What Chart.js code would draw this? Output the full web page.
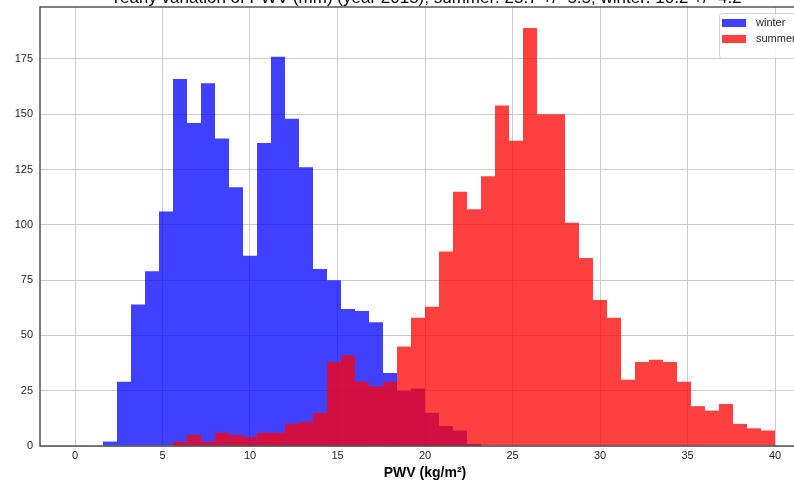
<!DOCTYPE html>
<html>
<head>
<meta charset="utf-8">
<script src="https://cdn.jsdelivr.net/npm/chart.js@4"></script>
<style>
  html, body { margin: 0; padding: 0; background: #fff; overflow: hidden; width: 794px; height: 484px; }
  #wrap { position: absolute; left: 0; top: -10px; width: 852px; height: 494px; }
</style>
</head>
<body>
<div id="wrap"><canvas id="chart" width="852" height="494"></canvas></div>
<script>
// histogrammes PWV hiver / ete
const TITLE = 'Yearly variation of PWV (mm) (year 2015), summer: 25.7 +/- 5.5, winter: 10.2 +/- 4.2';
const X_LABEL = 'PWV (kg/m²)';
const BIN_WIDTH = 0.8;
const WINTER_START = 1.6;
const SUMMER_START = 5.6;
const winterCounts = [2, 29, 64, 79, 106, 166, 146, 164, 139, 117, 86, 137, 176, 148, 126,
  80, 75, 62, 61, 56, 33, 25, 26, 15, 9, 7, 1];
const summerCounts = [2, 5, 2, 6, 5, 4, 6, 6, 10, 11, 15, 38, 41, 29, 27, 29,
  45, 58, 63, 88, 115, 107, 122, 154, 138, 189, 150, 150, 101, 85, 66,
  58, 30, 38, 39, 38, 29, 18, 16, 19, 10, 8, 7];
const xTicks = [0, 5, 10, 15, 20, 25, 30, 35, 40];
const yTicks = [0, 25, 50, 75, 100, 125, 150, 175];
const X_MIN = -2, X_MAX = 42, Y_MAX = 198.5;

const FONT = '"Liberation Sans", Arial, sans-serif';
const TXT = '#262626';
const GRID = '#cccccc';

function toBars(start, counts) {
  return counts.map(function(n, i) {
    const x = Math.round((start + (i + 0.5) * BIN_WIDTH) * 1000) / 1000;
    return { x: x, y: n };
  });
}

// cadre des axes (haut / gauche / bas / droite)
const frame = {
  id: 'frame',
  afterDatasetsDraw: function(chart) {
    const ctx = chart.ctx, a = chart.chartArea;
    ctx.save();
    ctx.strokeStyle = '#333';
    ctx.lineWidth = 1.25;
    ctx.strokeRect(a.left, a.top, a.right - a.left, a.bottom - a.top);
    ctx.restore();
  }
};

// legende encadree en haut a droite, dans la zone du graphe
const boxLegend = {
  id: 'boxLegend',
  afterDraw: function(chart) {
    const ctx = chart.ctx, a = chart.chartArea;
    const w = 86, h = 45;
    const x0 = a.right - 5 - w, y0 = a.top + 6;
    ctx.save();
    ctx.beginPath();
    if (ctx.roundRect) ctx.roundRect(x0 + 0.5, y0 + 0.5, w, h, 3);
    else ctx.rect(x0 + 0.5, y0 + 0.5, w, h);
    ctx.fillStyle = 'rgba(255,255,255,0.8)';
    ctx.fill();
    ctx.strokeStyle = '#d4d4d4';
    ctx.lineWidth = 1;
    ctx.stroke();
    ctx.font = '11px ' + FONT;
    ctx.textBaseline = 'middle';
    chart.data.datasets.forEach(function(ds, i) {
      const cy = y0 + 10 + i * 16;
      ctx.fillStyle = ds.backgroundColor;
      ctx.fillRect(x0 + 3, cy - 4, 24, 8);
      ctx.fillStyle = TXT;
      ctx.fillText(ds.label, x0 + 37, cy);
    });
    ctx.restore();
  }
};

Chart.defaults.font.family = FONT;

new Chart(document.getElementById('chart'), {
  type: 'bar',
  data: {
    datasets: [
      { label: 'winter', data: toBars(WINTER_START, winterCounts), backgroundColor: 'rgba(0,0,255,0.75)', order: 1 },
      { label: 'summer', data: toBars(SUMMER_START, summerCounts), backgroundColor: 'rgba(255,0,0,0.75)', order: 0 }
    ]
  },
  options: {
    responsive: false,
    animation: false,
    devicePixelRatio: 1,
    layout: { padding: 0 },
    datasets: { bar: { grouped: false, barPercentage: 1, categoryPercentage: 1, borderWidth: 0, inflateAmount: 0 } },
    plugins: {
      legend: { display: false },
      tooltip: { enabled: false },
      title: {
        display: true, text: TITLE, color: '#000',
        font: { size: 17, weight: 'normal', lineHeight: 1.0 },
        padding: { top: 0, bottom: 0 }
      }
    },
    scales: {
      x: {
        type: 'linear', min: X_MIN, max: X_MAX, offset: false,
        grid: { color: GRID, lineWidth: 1, drawTicks: false, offset: false },
        border: { display: false },
        ticks: { padding: 3, color: TXT, font: { size: 11 } },
        title: { display: true, text: X_LABEL, color: '#000', font: { size: 14, weight: 'bold' }, padding: { top: 0, bottom: 2 } },
        afterBuildTicks: function(s) { s.ticks = xTicks.map(function(v) { return { value: v }; }); },
        afterFit: function(s) { s.height = 38; }
      },
      y: {
        min: 0, max: Y_MAX,
        grid: { color: GRID, lineWidth: 1, drawTicks: false },
        border: { display: false },
        ticks: { padding: 7, color: TXT, font: { size: 11 } },
        afterBuildTicks: function(s) { s.ticks = yTicks.map(function(v) { return { value: v }; }); },
        afterFit: function(s) { s.width = 40; }
      },
      // marge droite de la figure (hors cadre), garde le titre centre sur les axes
      yRight: {
        position: 'right', min: 0, max: Y_MAX,
        grid: { display: false, drawTicks: false },
        border: { display: false },
        ticks: { display: false },
        afterFit: function(s) { s.width = 42; }
      }
    }
  },
  plugins: [frame, boxLegend]
});
</script>
</body>
</html>
